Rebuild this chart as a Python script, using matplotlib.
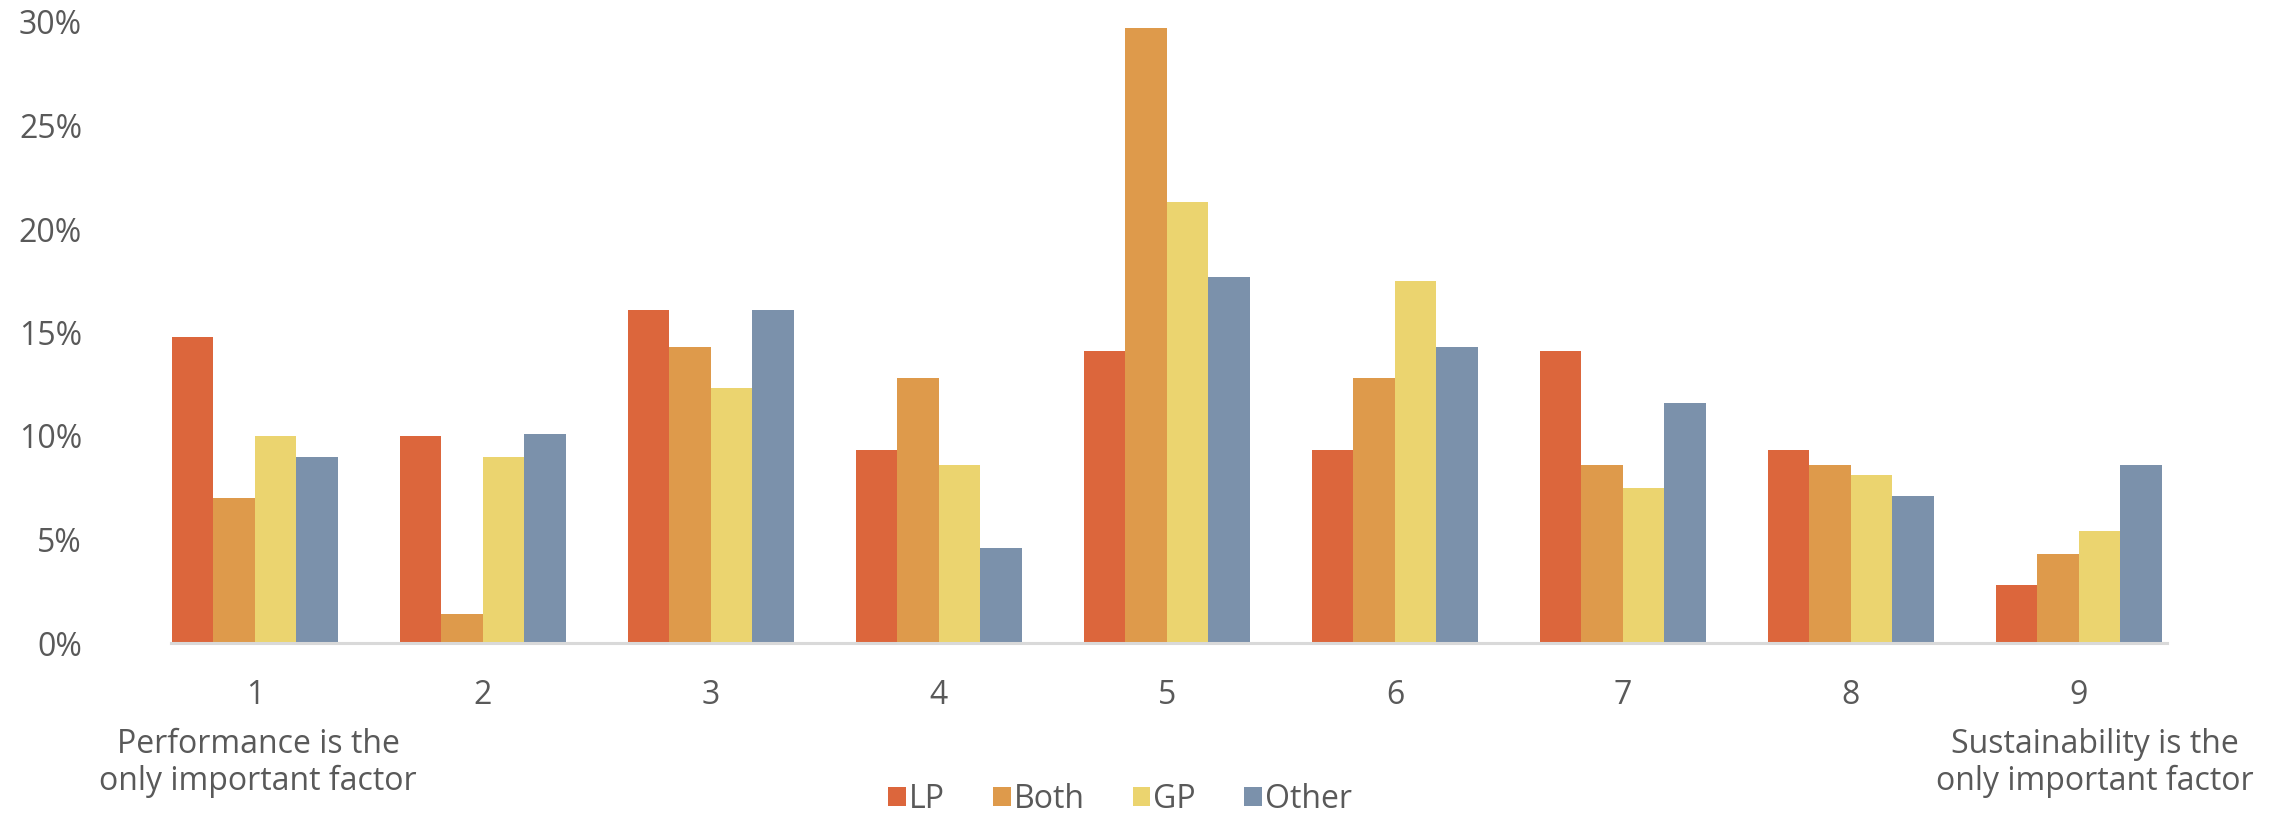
import matplotlib
import matplotlib.pyplot as plt
import numpy as np
from matplotlib.patches import Patch
from matplotlib.ticker import FuncFormatter

matplotlib.use("Agg")

# Survey responses per rating (1 = performance only, 9 = sustainability only)
categories = ["1", "2", "3", "4", "5", "6", "7", "8", "9"]
series_names = ["LP", "Both", "GP", "Other"]
lp = [14.8, 10.0, 16.1, 9.3, 14.1, 9.3, 14.1, 9.3, 2.8]
both = [7.0, 1.4, 14.3, 12.8, 29.7, 12.8, 8.6, 8.6, 4.3]
gp = [10.0, 9.0, 12.3, 8.6, 21.3, 17.5, 7.5, 8.1, 5.4]
other = [9.0, 10.1, 16.1, 4.6, 17.7, 14.3, 11.6, 7.1, 8.6]
yticks = [0, 5, 10, 15, 20, 25, 30]

COLOURS = ["#DC663C", "#DE9A4B", "#EBD46F", "#7B91AB"]
TEXT = "#595959"
FONT = ["Open Sans", "DejaVu Sans"]
FS = 23

plt.rcParams["font.family"] = FONT

fig = plt.figure(figsize=(22.77, 8.15), dpi=100)
ax = fig.add_axes([171 / 2277, 1 - 643 / 815, (2167 - 171) / 2277, (643 - 22) / 815])

x = np.arange(len(categories))
w = 0.182
for i, (vals, col) in enumerate(zip([lp, both, gp, other], COLOURS)):
    ax.bar(x + (i - 1.5) * w, vals, width=w, color=col, linewidth=0, label=series_names[i])

ax.set_xlim(-0.368, 8.386)
ax.set_ylim(0, 30)
ax.set_yticks(yticks)
ax.yaxis.set_major_formatter(FuncFormatter(lambda v, _: f"{v:.0f}%"))
ax.set_xticks(x)
ax.set_xticklabels(categories)

for s in ["top", "right", "left"]:
    ax.spines[s].set_visible(False)
ax.spines["bottom"].set_color("#D9D9D9")
ax.spines["bottom"].set_linewidth(2.2)
ax.tick_params(axis="both", length=0, labelsize=FS, labelcolor=TEXT)
ax.tick_params(axis="x", pad=26)
ax.tick_params(axis="y", pad=64)

# end-point descriptions under categories 1 and 9
fig.text(258 / 2277, 1 - 763 / 815, "Performance is the\nonly important factor",
         ha="center", va="center", fontsize=FS, color=TEXT, linespacing=1.12)
fig.text(2095 / 2277, 1 - 763 / 815, "Sustainability is the\nonly important factor",
         ha="center", va="center", fontsize=FS, color=TEXT, linespacing=1.12)

handles = [Patch(facecolor=c, edgecolor="none") for c in COLOURS]
fig.legend(handles, series_names, loc="center", bbox_to_anchor=(1120 / 2277, 1 - 799 / 815),
           ncol=4, frameon=False, fontsize=FS, labelcolor=TEXT,
           handlelength=0.55, handleheight=0.55, handletextpad=0.1, columnspacing=1.5)

fig.savefig("out.png", dpi=100)
